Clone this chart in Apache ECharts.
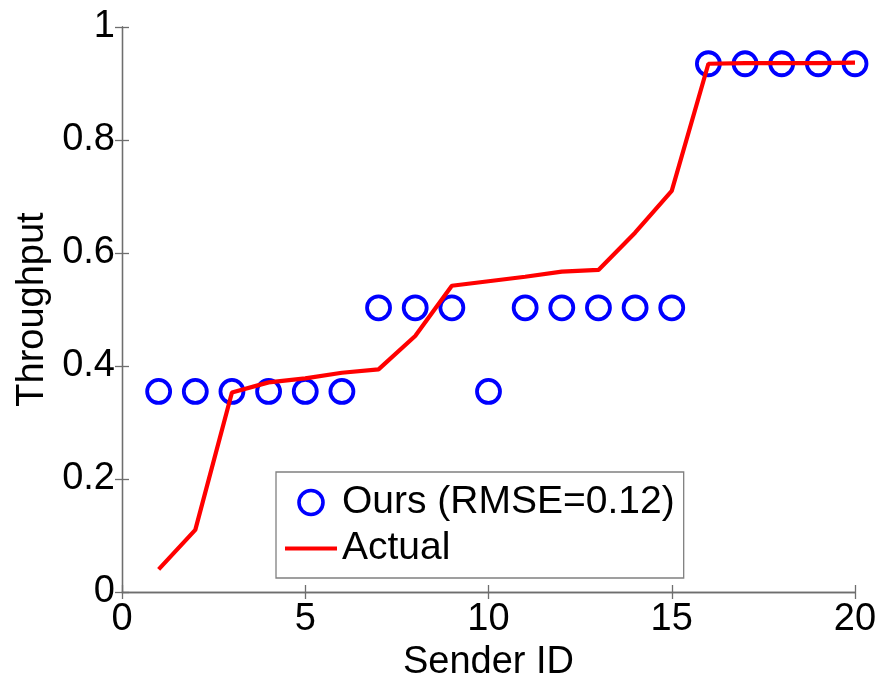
<!DOCTYPE html>
<html>
<head>
<meta charset="utf-8">
<script src="https://cdn.jsdelivr.net/npm/echarts@6/dist/echarts.min.js"></script>
<style>
  html, body { margin: 0; padding: 0; background: #fff; }
  #chart { width: 877px; height: 674px; }
</style>
</head>
<body>
<div id="chart"></div>
<script>
// Sender IDs along the x axis
const senderIds = [1, 2, 3, 4, 5, 6, 7, 8, 9, 10, 11, 12, 13, 14, 15, 16, 17, 18, 19, 20];
// Estimated throughput per sender
const oursThroughput = [0.355, 0.355, 0.355, 0.355, 0.355, 0.355, 0.503, 0.503, 0.503, 0.355,
                        0.503, 0.503, 0.503, 0.503, 0.503, 0.935, 0.935, 0.935, 0.935, 0.935];
// Measured throughput per sender
const actualThroughput = [0.040, 0.110, 0.353, 0.371, 0.378, 0.388, 0.394, 0.453, 0.542, 0.550,
                          0.558, 0.567, 0.570, 0.636, 0.710, 0.935, 0.936, 0.936, 0.936, 0.937];
const xTicks = [0, 5, 10, 15, 20];
const yTicks = [0, 0.2, 0.4, 0.6, 0.8, 1];
const oursName = 'Ours (RMSE=0.12)';
const actualName = 'Actual';

const FONT = '"Liberation Sans", Arial, Helvetica, sans-serif';
const AXIS_COLOR = '#6e6e6e';
const BLUE = '#0000ff';
const RED = '#ff0000';

function fmtY(v) {
  const hit = yTicks.find(t => Math.abs(t - v) < 1e-9);
  if (hit === undefined) return '';
  return hit === 0 ? '0' : (hit === 1 ? '1' : String(+hit.toFixed(1)));
}

const chart = echarts.init(document.getElementById('chart'), null, { renderer: 'canvas' });

// Shared style for the boxed frame: thin gray lines with inward ticks
const frameAxis = {
  axisLine: { show: true, lineStyle: { color: AXIS_COLOR, width: 1.3 } },
  axisTick: { show: true, inside: true, length: 7, lineStyle: { color: AXIS_COLOR, width: 1.3 } },
  splitLine: { show: false }
};

chart.setOption({
  animation: false,
  backgroundColor: '#ffffff',
  textStyle: { fontFamily: FONT },
  grid: { left: 122, right: 22, top: 27, bottom: 82, containLabel: false, outerBoundsMode: 'none' },
  legend: {
    orient: 'vertical',
    left: 276,
    top: 472,
    padding: [11, 9, 10, 9],
    itemGap: 7,
    itemWidth: 52,
    itemHeight: 24,
    backgroundColor: '#ffffff',
    borderColor: '#808080',
    borderWidth: 1.3,
    borderRadius: 0,
    textStyle: { fontFamily: FONT, fontSize: 39, color: '#000' },
    data: [
      {
        name: oursName,
        icon: 'circle',
        itemStyle: { color: 'rgba(0,0,0,0)', borderColor: BLUE, borderWidth: 3.6, opacity: 1 }
      },
      {
        name: actualName,
        icon: 'path://M0,0H52V4H0Z',
        itemStyle: { color: RED, borderWidth: 0, opacity: 1 }
      }
    ]
  },
  xAxis: [
    Object.assign({
      type: 'value', min: 0, max: 20, interval: 5, position: 'bottom',
      name: 'Sender ID', nameLocation: 'middle', nameGap: 36,
      nameTextStyle: { fontFamily: FONT, fontSize: 38, color: '#000' },
      axisLabel: { show: true, fontFamily: FONT, fontSize: 38, color: '#000', margin: 9,
                   formatter: v => xTicks.includes(v) ? String(v) : '' }
    }, frameAxis),
    Object.assign({
      type: 'value', min: 0, max: 20, interval: 5, position: 'top',
      axisLabel: { show: false }
    }, frameAxis)
  ],
  yAxis: [
    Object.assign({
      type: 'value', min: 0, max: 1, interval: 0.2, position: 'left',
      name: 'Throughput', nameLocation: 'middle', nameGap: 67, nameRotate: 90,
      nameTextStyle: { fontFamily: FONT, fontSize: 38, color: '#000' },
      axisLabel: { show: true, fontFamily: FONT, fontSize: 38, color: '#000', margin: 7,
                   formatter: fmtY }
    }, frameAxis),
    Object.assign({
      type: 'value', min: 0, max: 1, interval: 0.2, position: 'right',
      axisLabel: { show: false }
    }, frameAxis)
  ],
  series: [
    {
      name: oursName,
      type: 'scatter',
      xAxisIndex: 0, yAxisIndex: 0,
      data: senderIds.map((id, i) => [id, oursThroughput[i]]),
      symbol: 'circle',
      symbolSize: 23,
      clip: false,
      itemStyle: { color: 'rgba(0,0,0,0)', borderColor: BLUE, borderWidth: 3.8, opacity: 1 },
      emphasis: { disabled: true },
      z: 2
    },
    {
      name: actualName,
      type: 'line',
      xAxisIndex: 0, yAxisIndex: 0,
      data: senderIds.map((id, i) => [id, actualThroughput[i]]),
      showSymbol: false,
      symbol: 'none',
      lineStyle: { color: RED, width: 4.2 },
      itemStyle: { color: RED },
      emphasis: { disabled: true },
      z: 3
    }
  ]
});
</script>
</body>
</html>
